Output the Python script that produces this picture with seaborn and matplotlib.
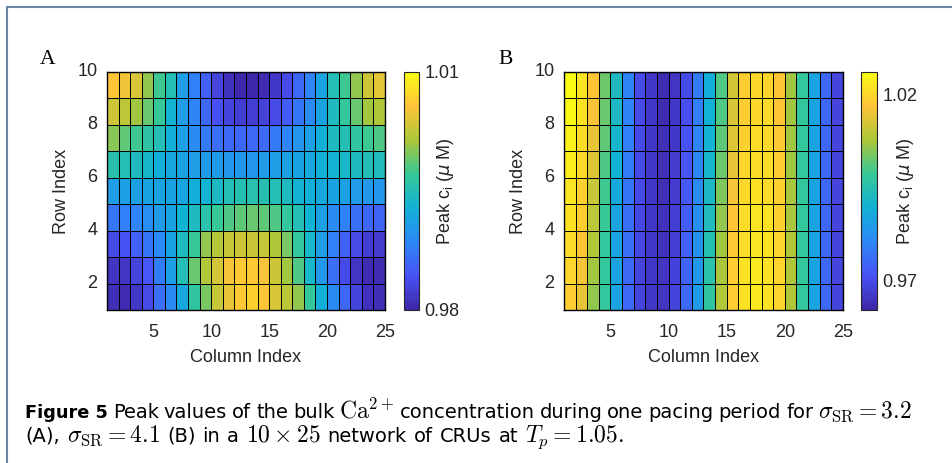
import matplotlib
matplotlib.use("Agg")
import matplotlib.pyplot as plt
from matplotlib.colors import LinearSegmentedColormap
from matplotlib.lines import Line2D
import pandas as pd
import seaborn as sns

# peak c_i (uM) per CRU, rows listed from the top (row 10) down to row 1,
# columns 1..24 (pcolor-style: the 25th column / 10th row only close the grid)
panel_a = [
    [1.0058, 1.0049, 1.0037, 1.0004, 0.9974, 0.9950, 0.9908, 0.9881, 0.9854, 0.9830, 0.9812, 0.9803, 0.9800, 0.9806, 0.9818, 0.9836, 0.9860, 0.9884, 0.9914, 0.9950, 0.9974, 1.0004, 1.0031, 1.0043],
    [1.0031, 1.0022, 1.0010, 0.9989, 0.9971, 0.9932, 0.9908, 0.9884, 0.9860, 0.9842, 0.9830, 0.9824, 0.9824, 0.9827, 0.9836, 0.9851, 0.9872, 0.9890, 0.9914, 0.9944, 0.9968, 0.9989, 1.0010, 1.0016],
    [1.0001, 0.9986, 0.9974, 0.9962, 0.9950, 0.9926, 0.9911, 0.9890, 0.9875, 0.9866, 0.9860, 0.9860, 0.9860, 0.9863, 0.9875, 0.9884, 0.9899, 0.9911, 0.9926, 0.9944, 0.9950, 0.9965, 0.9974, 0.9980],
    [0.9956, 0.9950, 0.9944, 0.9938, 0.9926, 0.9920, 0.9914, 0.9908, 0.9905, 0.9905, 0.9902, 0.9902, 0.9902, 0.9905, 0.9908, 0.9911, 0.9914, 0.9920, 0.9926, 0.9932, 0.9938, 0.9944, 0.9950, 0.9947],
    [0.9908, 0.9911, 0.9911, 0.9914, 0.9914, 0.9914, 0.9917, 0.9926, 0.9932, 0.9941, 0.9950, 0.9953, 0.9956, 0.9953, 0.9950, 0.9944, 0.9932, 0.9926, 0.9920, 0.9914, 0.9911, 0.9905, 0.9902, 0.9902],
    [0.9872, 0.9881, 0.9884, 0.9893, 0.9905, 0.9914, 0.9929, 0.9944, 0.9959, 0.9971, 0.9980, 0.9986, 0.9989, 0.9986, 0.9980, 0.9968, 0.9950, 0.9929, 0.9911, 0.9890, 0.9881, 0.9869, 0.9860, 0.9857],
    [0.9836, 0.9842, 0.9854, 0.9872, 0.9890, 0.9914, 0.9944, 0.9971, 1.0004, 1.0019, 1.0028, 1.0031, 1.0031, 1.0028, 1.0016, 0.9995, 0.9968, 0.9938, 0.9908, 0.9881, 0.9854, 0.9836, 0.9824, 0.9821],
    [0.9815, 0.9815, 0.9830, 0.9848, 0.9878, 0.9911, 0.9950, 0.9989, 1.0016, 1.0034, 1.0052, 1.0061, 1.0061, 1.0052, 1.0031, 1.0010, 0.9980, 0.9938, 0.9902, 0.9866, 0.9836, 0.9815, 0.9806, 0.9806],
    [0.9809, 0.9806, 0.9818, 0.9836, 0.9866, 0.9890, 0.9920, 0.9965, 0.9995, 1.0028, 1.0046, 1.0061, 1.0067, 1.0058, 1.0037, 1.0022, 1.0004, 0.9968, 0.9926, 0.9890, 0.9860, 0.9830, 0.9812, 0.9809],
]

panel_b = [
    [1.0260, 1.0222, 1.0170, 1.0030, 0.9927, 0.9799, 0.9697, 0.9658, 0.9633, 0.9652, 0.9697, 0.9786, 0.9889, 1.0004, 1.0119, 1.0183, 1.0202, 1.0196, 1.0170, 1.0068, 0.9978, 0.9863, 0.9748, 0.9684],
    [1.0254, 1.0215, 1.0164, 1.0023, 0.9921, 0.9799, 0.9697, 0.9658, 0.9633, 0.9658, 0.9703, 0.9793, 0.9895, 1.0004, 1.0126, 1.0183, 1.0202, 1.0202, 1.0170, 1.0068, 0.9978, 0.9863, 0.9748, 0.9684],
    [1.0241, 1.0209, 1.0145, 1.0017, 0.9908, 0.9793, 0.9697, 0.9658, 0.9639, 0.9658, 0.9710, 0.9799, 0.9902, 1.0017, 1.0132, 1.0190, 1.0209, 1.0202, 1.0177, 1.0068, 0.9978, 0.9863, 0.9748, 0.9684],
    [1.0234, 1.0202, 1.0132, 1.0004, 0.9895, 0.9786, 0.9697, 0.9658, 0.9639, 0.9665, 0.9716, 0.9806, 0.9908, 1.0030, 1.0145, 1.0196, 1.0209, 1.0209, 1.0183, 1.0068, 0.9978, 0.9863, 0.9748, 0.9684],
    [1.0222, 1.0190, 1.0106, 0.9991, 0.9876, 0.9774, 0.9697, 0.9658, 0.9639, 0.9665, 0.9722, 0.9812, 0.9921, 1.0042, 1.0158, 1.0202, 1.0215, 1.0209, 1.0190, 1.0074, 0.9978, 0.9863, 0.9748, 0.9684],
    [1.0215, 1.0183, 1.0094, 0.9985, 0.9863, 0.9761, 0.9690, 0.9658, 0.9646, 0.9671, 0.9729, 0.9818, 0.9934, 1.0055, 1.0170, 1.0209, 1.0222, 1.0215, 1.0190, 1.0074, 0.9978, 0.9863, 0.9748, 0.9684],
    [1.0209, 1.0170, 1.0081, 0.9978, 0.9863, 0.9761, 0.9690, 0.9658, 0.9646, 0.9671, 0.9735, 0.9825, 0.9946, 1.0068, 1.0177, 1.0209, 1.0222, 1.0215, 1.0196, 1.0081, 0.9978, 0.9863, 0.9748, 0.9684],
    [1.0196, 1.0158, 1.0068, 0.9978, 0.9863, 0.9754, 0.9684, 0.9658, 0.9652, 0.9678, 0.9742, 0.9838, 0.9959, 1.0074, 1.0183, 1.0215, 1.0228, 1.0215, 1.0196, 1.0081, 0.9978, 0.9863, 0.9748, 0.9684],
    [1.0183, 1.0145, 1.0055, 0.9978, 0.9863, 0.9748, 0.9684, 0.9658, 0.9652, 0.9684, 0.9748, 0.9844, 0.9972, 1.0081, 1.0183, 1.0215, 1.0228, 1.0215, 1.0196, 1.0081, 0.9978, 0.9863, 0.9748, 0.9684],
]

row_index = [10, 9, 8, 7, 6, 5, 4, 3, 2]
col_index = list(range(1, 25))
x_ticks = [5, 10, 15, 20, 25]
y_ticks = [2, 4, 6, 8, 10]
clim_a = (0.98, 1.01)
clim_b = (0.962, 1.026)
cticks_a = [0.98, 1.01]
cticks_b = [0.97, 1.02]

caption_1 = ["Figure 5", "Peak", "values", "of", "the", "bulk", "$\\mathrm{Ca}^{2+}$",
             "concentration", "during", "one", "pacing", "period", "for",
             "$\\sigma_{\\mathrm{SR}} = 3.2$"]
caption_2 = ["(A),", "$\\sigma_{\\mathrm{SR}} = 4.1$", "(B)", "in", "a", "$10 \\times 25$",
             "network", "of", "CRUs", "at", "$T_p = 1.05.$"]

parula = LinearSegmentedColormap.from_list("parula", [
    (0.2422, 0.1504, 0.6603), (0.2810, 0.3228, 0.9579), (0.1786, 0.5289, 0.9682),
    (0.0689, 0.6948, 0.8394), (0.2161, 0.7843, 0.5923), (0.6720, 0.7793, 0.2227),
    (0.9970, 0.7659, 0.2199), (0.9769, 0.9839, 0.0805)])

sns.set_theme(style="white")
plt.rcParams["font.family"] = ["Liberation Sans", "DejaVu Sans"]
txt = "#262626"

W, H = 953, 463
fig = plt.figure(figsize=(W / 100, H / 100), dpi=100)


def box(x0, y0, x1, y1):
    return [x0 / W, 1 - y1 / H, (x1 - x0) / W, (y1 - y0) / H]


def panel(ax, cax, vals, clim, cticks, letter, lx):
    df = pd.DataFrame(vals, index=row_index, columns=col_index)
    sns.heatmap(df, ax=ax, cbar_ax=cax, cmap=parula, vmin=clim[0], vmax=clim[1],
                linewidths=0.6, linecolor="black",
                cbar_kws={"ticks": cticks, "format": "%.2f"})
    ax.set_xticks([c - 1 for c in x_ticks])
    ax.set_xticklabels(x_ticks, rotation=0)
    ax.set_yticks([10 - r for r in y_ticks])
    ax.set_yticklabels(y_ticks, rotation=0)
    ax.tick_params(labelsize=13, colors=txt, length=0)
    ax.tick_params(axis="x", pad=10)
    ax.tick_params(axis="y", pad=7)
    ax.set_xlabel("Column Index", fontsize=13, color=txt, labelpad=6)
    ax.set_ylabel("Row Index", fontsize=13, color=txt, labelpad=5)
    for s in ax.spines.values():
        s.set_visible(True)
        s.set_color("black")
        s.set_linewidth(1)
    cb = ax.collections[0].colorbar
    cb.outline.set_visible(True)
    cb.outline.set_linewidth(0.8)
    cb.outline.set_edgecolor(txt)
    cax.tick_params(labelsize=13, colors=txt, direction="in", length=3, width=0.6, pad=4)
    cax.set_ylabel("Peak c$_\\mathregular{i}$ ($\\mu$ M)", fontsize=13, color=txt)
    cax.yaxis.set_label_coords(2.8, 0.5)
    cax.yaxis.label.set_verticalalignment("center")
    fig.text(lx / W, 1 - 60 / H, letter, family="Liberation Serif", fontsize=15.5,
             ha="center", va="center", color="black")


ax_a = fig.add_axes(box(107, 72, 385, 310))
cax_a = fig.add_axes(box(404, 72, 419, 310))
ax_b = fig.add_axes(box(564, 72, 843, 310))
cax_b = fig.add_axes(box(861, 72, 877, 310))
panel(ax_a, cax_a, panel_a, clim_a, cticks_a, "A", 48)
panel(ax_b, cax_b, panel_b, clim_b, cticks_b, "B", 506)

# page frame
frame = "#6b86a4"
fig.add_artist(Line2D([7 / W, 7 / W], [0, 1 - 7 / H], color=frame, lw=1.5))
fig.add_artist(Line2D([7 / W, 952 / W], [1 - 7 / H, 1 - 7 / H], color=frame, lw=1.5))

# caption, word by word (first line justified like the typeset original)
renderer = fig.canvas.get_renderer()


def caption_line(words, y, x0, x1=None, gap=7):
    items = []
    for i, w in enumerate(words):
        kw = dict(color="black", va="baseline", family="DejaVu Sans", fontsize=14)
        if w.startswith("$"):
            kw.update(math_fontfamily="cm", fontsize=17)
        if i == 0 and w == "Figure 5":
            kw.update(weight="bold", fontsize=12.8)
        t = fig.text(0, 1 - y / H, w, **kw)
        items.append((t, t.get_window_extent(renderer).width))
    if x1 is not None:
        gap = (x1 - x0 - sum(wd for _, wd in items)) / (len(items) - 1)
    x = x0
    for t, wd in items:
        t.set_x(x / W)
        x += wd + gap


caption_line(caption_1, 418, 25, x1=912)
caption_line(caption_2, 442, 25, gap=7)

fig.savefig("out.png", dpi=100)
